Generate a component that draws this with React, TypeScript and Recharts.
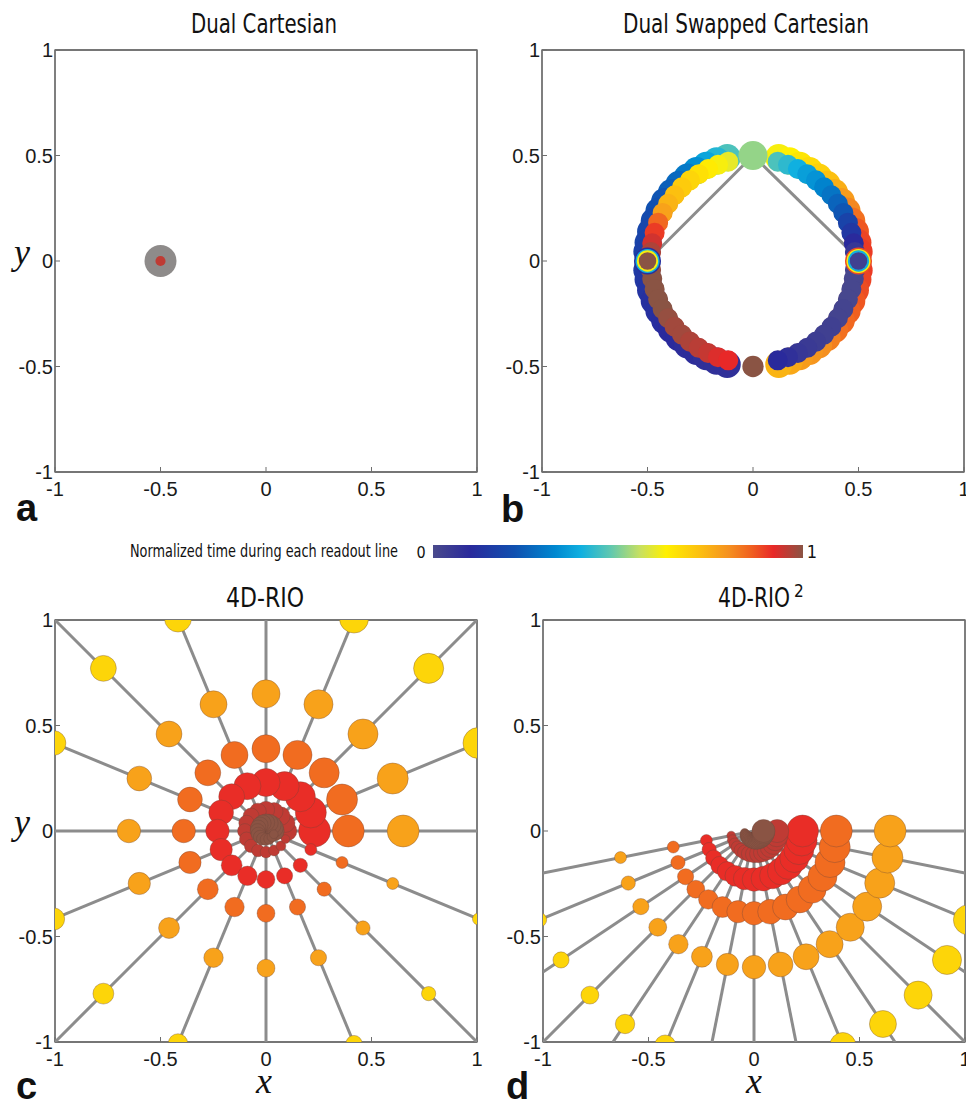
import { ScatterChart, Scatter, XAxis, YAxis, ZAxis, Cell, ReferenceArea } from "recharts"

const axisTicks = [-1, -0.5, 0, 0.5, 1]

// colour map: normalized time during each readout line (0..1)
const cmapPos = [0, 0.1, 0.22, 0.33, 0.4, 0.48, 0.56, 0.63, 0.72, 0.8, 0.86, 0.92, 1]
const cmapHex = ["#4a4a8c", "#2a2a9c", "#1050b0", "#0088d0", "#10b0e0", "#60c8b0", "#c8e060", "#fff000", "#fcc010", "#f59020", "#f06020", "#e82828", "#8a5444"]

// a) Dual Cartesian: one k-space location, many samples stacked on it
const aX = [-0.5, -0.5]
const aY = [0, 0]
const aWeight = [1, 0.1]
const aTime = [null, 0.955]

// b) Dual Swapped Cartesian: two arcs on a circle of radius 0.5
const bLeftAngles = [104, 110, 116, 122, 128, 134, 140, 146, 152, 158, 164, 170, 175, 185, 190, 196, 202, 208, 214, 220, 226, 232, 238, 244, 250, 256]
const bRightAngles = [76, 70, 64, 58, 52, 46, 40, 34, 28, 22, 16, 10, 5, -5, -10, -16, -22, -28, -34, -40, -46, -52, -58, -64, -70, -76]
const bLeftOuterT = [0.46, 0.42, 0.38, 0.34, 0.3, 0.27, 0.25, 0.23, 0.22, 0.2, 0.19, 0.18, 0.17, 0.15, 0.14, 0.13, 0.12, 0.12, 0.11, 0.1, 0.1, 0.09, 0.09, 0.08, 0.08, 0.08]
const bLeftInnerT = [0.6, 0.62, 0.64, 0.66, 0.68, 0.7, 0.72, 0.74, 0.77, 0.85, 0.9, 0.94, 0.97, 0.99, 1, 1, 1, 1, 0.99, 0.98, 0.98, 0.97, 0.96, 0.95, 0.93, 0.92]
const bRightOuterT = [0.62, 0.63, 0.65, 0.67, 0.69, 0.72, 0.75, 0.78, 0.81, 0.84, 0.87, 0.89, 0.9, 0.9, 0.89, 0.88, 0.87, 0.86, 0.85, 0.84, 0.82, 0.8, 0.79, 0.78, 0.76, 0.74]
const bRightInnerT = [0.46, 0.43, 0.4, 0.37, 0.35, 0.32, 0.29, 0.26, 0.23, 0.18, 0.14, 0.1, 0.06, 0.02, 0.01, 0.01, 0.01, 0.02, 0.02, 0.03, 0.03, 0.04, 0.05, 0.06, 0.08, 0.1]
const bOuterR = 0.505
const bInnerR = 0.485
const bOuterWeight = 1
const bInnerWeight = 0.55
const bCrossLeftT = [0.12, 0.4, 0.62, 1]
const bCrossRightT = [0.88, 0.62, 0.4, 0.03]
const bCrossWeight = [1, 0.8, 0.62, 0.42]
const bEndX = [0, 0]
const bEndY = [0.5, -0.5]
const bEndT = [0.52, 1]
const bEndWeight = [1.15, 0.62]
const bLineEndX = [-0.46, 0.47]
const bLineEndY = [0.04, 0.04]

// c) 4D-RIO: 16 radial spokes, rings of samples (last two rings = inner spiral)
const cSpokeAngles = [0, 22.5, 45, 67.5, 90, 112.5, 135, 157.5, 180, 202.5, 225, 247.5, 270, 292.5, 315, 337.5]
const cSpokeOrder = [15, 14, 13, 12, 11, 10, 9, 8, 7, 6, 5, 4, 3, 2, 1, 0]
const cRingRadii = [1.09, 0.65, 0.39, 0.23, 0.1, 0.04]
const cRingTimes = [0.68, 0.77, 0.845, 0.915, 0.955, 1]

// d) 4D-RIO^2: 16 spokes over the lower half plane
const dSpokeAngles = [191.25, 202.5, 213.75, 225, 236.25, 247.5, 258.75, 270, 281.25, 292.5, 303.75, 315, 326.25, 337.5, 348.75, 360]
const dSpokeOrder = [0, 1, 2, 3, 4, 5, 6, 7, 8, 9, 10, 11, 12, 13, 14, 15]
const dRingRadii = [1.1, 0.645, 0.39, 0.23, 0.11, 0.045]
const dRingTimes = [0.68, 0.77, 0.845, 0.915, 0.955, 1]

function jet(t: number) {
  let i = 0
  while (i < cmapPos.length - 2 && t > cmapPos[i + 1]) i++
  const f = Math.max(0, Math.min(1, (t - cmapPos[i]) / (cmapPos[i + 1] - cmapPos[i])))
  const a = cmapHex[i], b = cmapHex[i + 1]
  const ch = (h: string, k: number) => parseInt(h.slice(1 + 2 * k, 3 + 2 * k), 16)
  const c = [0, 1, 2].map((k) => Math.round(ch(a, k) + (ch(b, k) - ch(a, k)) * f))
  return `rgb(${c[0]},${c[1]},${c[2]})`
}

const rad = (d: number) => (d * Math.PI) / 180

function ring(angles: number[], order: number[], r: number, t: number) {
  return angles.map((a, i) => ({ x: r * Math.cos(rad(a)), y: r * Math.sin(rad(a)), z: order[i], t }))
}

function arc(angles: number[], r: number, times: number[], w: number) {
  return angles.map((a, i) => ({ x: r * Math.cos(rad(a)), y: r * Math.sin(rad(a)), z: w, t: times[i] }))
}

function spokeEnd(a: number) {
  const c = Math.cos(rad(a)), s = Math.sin(rad(a))
  const m = Math.max(Math.abs(c), Math.abs(s))
  return { x: c / m, y: s / m }
}

const AXIS = "#6e6e6e"
const tickStyle = { fontFamily: "'Liberation Sans', Arial, sans-serif", fontSize: 20, fill: "#1a1a1a" }
const noShape = () => <g />

function axes() {
  return [
    <XAxis key="xb" type="number" dataKey="x" domain={[-1, 1]} ticks={axisTicks} interval={0} allowDataOverflow height={30}
      tickSize={-5} tickMargin={15} tick={tickStyle} axisLine={{ stroke: AXIS, strokeWidth: 1.3 }} tickLine={{ stroke: AXIS }} />,
    <XAxis key="xt" xAxisId="top" orientation="top" type="number" dataKey="x" domain={[-1, 1]} ticks={axisTicks} interval={0} allowDataOverflow height={1}
      tickSize={-5} tick={false} axisLine={{ stroke: AXIS, strokeWidth: 1.3 }} tickLine={{ stroke: AXIS }} />,
    <YAxis key="yl" type="number" dataKey="y" domain={[-1, 1]} ticks={axisTicks} interval={0} allowDataOverflow width={45}
      tickSize={-5} tickMargin={7} tick={tickStyle} axisLine={{ stroke: AXIS, strokeWidth: 1.3 }} tickLine={{ stroke: AXIS }} />,
    <YAxis key="yr" yAxisId="right" orientation="right" type="number" dataKey="y" domain={[-1, 1]} ticks={axisTicks} interval={0} allowDataOverflow width={1}
      tickSize={-5} tick={false} axisLine={{ stroke: AXIS, strokeWidth: 1.3 }} tickLine={{ stroke: AXIS }} />,
    <Scatter key="frame" xAxisId="top" yAxisId="right" data={[{ x: 0, y: 0, z: 0 }]} shape={noShape} isAnimationActive={false} />,
    // closed frame around the plot area
    <ReferenceArea key="box" x1={-1} x2={1} y1={-1} y2={1} fill="none" fillOpacity={0} stroke={AXIS} strokeWidth={1.3} ifOverflow="visible" />,
  ]
}

type Pt = { x: number; y: number; z: number; t: number | null }

function dots(key: string, data: Pt[], outline: boolean, zId?: string) {
  return (
    <Scatter key={key} data={data} zAxisId={zId} isAnimationActive={false}>
      {data.map((p, i) => (
        <Cell key={i} fill={p.t === null ? "#8e8b8a" : jet(p.t)}
          stroke={outline ? "rgba(110,70,60,0.45)" : "none"} strokeWidth={outline ? 0.8 : 0} />
      ))}
    </Scatter>
  )
}

function lineSeg(key: string, x0: number, y0: number, x1: number, y1: number) {
  return (
    <Scatter key={key} data={[{ x: x0, y: y0, z: 0 }, { x: x1, y: y1, z: 0 }]} line={{ stroke: "#8c8c8c", strokeWidth: 3 }}
      shape={noShape} isAnimationActive={false} />
  )
}

const aData: Pt[] = aX.map((x, i) => ({ x, y: aY[i], z: aWeight[i], t: aTime[i] }))

const bLayers: Pt[][] = [
  arc(bLeftAngles, bOuterR, bLeftOuterT, bOuterWeight),
  arc(bRightAngles, bOuterR, bRightOuterT, bOuterWeight),
  arc(bLeftAngles, bInnerR, bLeftInnerT, bInnerWeight),
  arc(bRightAngles, bInnerR, bRightInnerT, bInnerWeight),
]
const bCross: Pt[] = [
  ...bCrossLeftT.map((t, i) => ({ x: -0.5, y: 0, z: bCrossWeight[i], t })),
  ...bCrossRightT.map((t, i) => ({ x: 0.5, y: 0, z: bCrossWeight[i], t })),
]
const bEnds: Pt[] = bEndX.map((x, i) => ({ x, y: bEndY[i], z: bEndWeight[i], t: bEndT[i] }))

const cRings = cRingRadii.map((r, k) => ring(cSpokeAngles, cSpokeOrder, r, cRingTimes[k]))
const dRings = dRingRadii.map((r, k) => ring(dSpokeAngles, dSpokeOrder, r, dRingTimes[k]))

const W = 490, H = 510

export default function App() {
  const titleFont = "'DejaVu Sans Condensed', 'Liberation Sans Narrow', 'Open Sans', sans-serif"
  const serif = "'Liberation Serif', 'DejaVu Serif', serif"
  const sans = "'Liberation Sans', Arial, sans-serif"
  return (
    <div style={{ position: "absolute", left: 0, top: 0, width: 966, height: 1105, background: "#fff" }}>
      <div style={{ position: "absolute", left: 0, top: 0 }}>
        <ScatterChart width={W} height={H} margin={{ top: 49, right: 12, bottom: 8, left: 10 }}>
          {axes()}
          <ZAxis type="number" dataKey="z" domain={[0, 1]} range={[0, 804]} />
          {dots("a", aData, false)}
        </ScatterChart>
      </div>

      <div style={{ position: "absolute", left: 490, top: 0 }}>
        <ScatterChart width={476} height={H} margin={{ top: 49, right: 1, bottom: 8, left: 7 }}>
          {axes()}
          <ZAxis type="number" dataKey="z" domain={[0, 1]} range={[0, 660]} />
          {bLineEndX.map((x, i) => lineSeg("bl" + i, 0, 0.5, x, bLineEndY[i]))}
          {bLayers.map((d, i) => dots("b" + i, d, false))}
          {dots("bx", bCross, false)}
          {dots("be", bEnds, false)}
        </ScatterChart>
      </div>

      <div style={{ position: "absolute", left: 0, top: 570 }}>
        <ScatterChart width={W} height={H} margin={{ top: 49, right: 12, bottom: 8, left: 10 }}>
          {axes()}
          <ZAxis type="number" dataKey="z" domain={[0, 15]} range={[113, 804]} />
          <ZAxis zAxisId="inner" type="number" dataKey="z" domain={[0, 15]} range={[60, 300]} />
          {cSpokeAngles.map((a, i) => {
            const e = spokeEnd(a)
            return lineSeg("cs" + i, 0, 0, e.x, e.y)
          })}
          {cRings.map((d, i) => dots("c" + i, d, true, i >= 4 ? "inner" : undefined))}
        </ScatterChart>
      </div>

      <div style={{ position: "absolute", left: 490, top: 570 }}>
        <ScatterChart width={476} height={H} margin={{ top: 49, right: 0, bottom: 8, left: 8 }}>
          {axes()}
          <ZAxis type="number" dataKey="z" domain={[0, 15]} range={[113, 804]} />
          <ZAxis zAxisId="inner" type="number" dataKey="z" domain={[0, 15]} range={[60, 420]} />
          {dSpokeAngles.map((a, i) => {
            const e = spokeEnd(a)
            return lineSeg("ds" + i, 0, 0, e.x, e.y)
          })}
          {dRings.map((d, i) => dots("d" + i, d, true, i >= 4 ? "inner" : undefined))}
        </ScatterChart>
      </div>

      <svg width={966} height={1105} style={{ position: "absolute", left: 0, top: 0, pointerEvents: "none" }}>
        <defs>
          <linearGradient id="cbar" x1="0" x2="1" y1="0" y2="0">
            {cmapPos.map((p, i) => (
              <stop key={i} offset={p} stopColor={cmapHex[i]} />
            ))}
          </linearGradient>
        </defs>
        <text x={264} y={33} textAnchor="middle" fontFamily={titleFont} fontSize={27} fill="#111" textLength={146} lengthAdjust="spacingAndGlyphs">Dual Cartesian</text>
        <text x={746} y={33} textAnchor="middle" fontFamily={titleFont} fontSize={27} fill="#111" textLength={246} lengthAdjust="spacingAndGlyphs">Dual Swapped Cartesian</text>
        <text x={265} y={607} textAnchor="middle" fontFamily={titleFont} fontSize={27} fill="#111" textLength={78} lengthAdjust="spacingAndGlyphs">4D-RIO</text>
        <text x={718} y={607} fontFamily={titleFont} fontSize={27} fill="#111" textLength={72} lengthAdjust="spacingAndGlyphs">4D-RIO</text>
        <text x={794} y={597} fontFamily={titleFont} fontSize={17} fill="#111">2</text>

        <text x={130} y={557} fontFamily={titleFont} fontSize={17} fill="#111" textLength={268} lengthAdjust="spacingAndGlyphs">Normalized time during each readout line</text>
        <text x={421} y={558} textAnchor="middle" fontFamily={titleFont} fontSize={16} fill="#111">0</text>
        <rect x={433} y={545} width={370} height={13} fill="url(#cbar)" />
        <text x={812} y={558} textAnchor="middle" fontFamily={titleFont} fontSize={18} fill="#111">1</text>

        <text x={22} y={264} textAnchor="middle" fontFamily={serif} fontStyle="italic" fontSize={36} fill="#111">y</text>
        <text x={22} y={834} textAnchor="middle" fontFamily={serif} fontStyle="italic" fontSize={36} fill="#111">y</text>
        <text x={264} y={1093} textAnchor="middle" fontFamily={serif} fontStyle="italic" fontSize={36} fill="#111">x</text>
        <text x={754} y={1093} textAnchor="middle" fontFamily={serif} fontStyle="italic" fontSize={36} fill="#111">x</text>

        <text x={16} y={521} fontFamily={sans} fontWeight="bold" fontSize={38} fill="#111">a</text>
        <text x={501} y={522} fontFamily={sans} fontWeight="bold" fontSize={38} fill="#111">b</text>
        <text x={16} y={1099} fontFamily={sans} fontWeight="bold" fontSize={38} fill="#111">c</text>
        <text x={506} y={1099} fontFamily={sans} fontWeight="bold" fontSize={38} fill="#111">d</text>
      </svg>
    </div>
  )
}
